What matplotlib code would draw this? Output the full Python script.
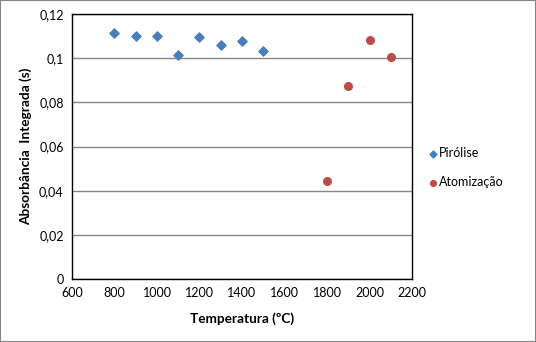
import matplotlib
matplotlib.use("Agg")
import matplotlib.pyplot as plt
from matplotlib.ticker import FuncFormatter, MultipleLocator
from matplotlib.patches import Rectangle

# dados
temp_pirolise = [800, 900, 1000, 1100, 1200, 1300, 1400, 1500]
abs_pirolise = [0.1113, 0.1099, 0.1099, 0.1013, 0.1095, 0.1059, 0.1077, 0.1032]
temp_atomizacao = [1800, 1900, 2000, 2100]
abs_atomizacao = [0.0444, 0.0874, 0.1083, 0.1006]

plt.rcParams["font.family"] = ["Lato", "DejaVu Sans"]

fig = plt.figure(figsize=(5.36, 3.42), dpi=100)
ax = fig.add_axes([0.1343, 0.1842, 0.6344, 0.7748])

ax.scatter(temp_pirolise, abs_pirolise, marker="D", s=22, color="#4a7ebb",
           label="Pirólise", zorder=3)
ax.scatter(temp_atomizacao, abs_atomizacao, marker="o", s=30, color="#be4b48",
           label="Atomização", zorder=3)

ax.set_xlim(600, 2200)
ax.set_ylim(0, 0.12)
ax.xaxis.set_major_locator(MultipleLocator(200))
ax.yaxis.set_major_locator(MultipleLocator(0.02))
ax.yaxis.set_major_formatter(FuncFormatter(lambda v, p: f"{round(v, 2):g}".replace(".", ",")))
ax.grid(axis="y", color="#868686", linewidth=1)
ax.set_axisbelow(True)
ax.tick_params(length=0, labelsize=9, colors="black", pad=6)
for s in ax.spines.values():
    s.set_color("black")
    s.set_linewidth(1)

ax.set_xlabel("Temperatura (ºC)", fontsize=9.8, fontweight="bold", labelpad=9)
ax.set_ylabel("Absorbância  Integrada (s)", fontsize=9.8, fontweight="bold", labelpad=5)

fig.legend(loc="upper left", bbox_to_anchor=(0.787, 0.585), frameon=False,
           fontsize=9, handletextpad=0.0, labelspacing=1.35, handlelength=1.0,
           markerscale=0.75, borderaxespad=0)

fig.patches.append(Rectangle((0, 0), 1, 1, transform=fig.transFigure, fill=False,
                             edgecolor="#868686", linewidth=1.5))

fig.savefig("out.png", dpi=100)
